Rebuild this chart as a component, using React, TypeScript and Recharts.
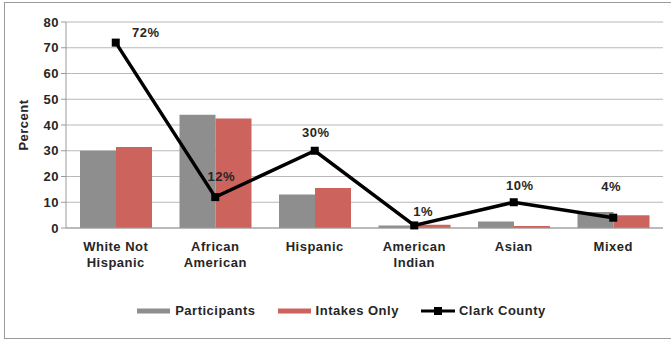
import React from 'react';
import {
  ComposedChart,
  Bar,
  Line,
  XAxis,
  YAxis,
  CartesianGrid,
  Legend,
  LabelList
} from 'recharts';

// groups along the x axis ("\n" splits a label over two lines)
const groups = [
  'White Not\nHispanic',
  'African\nAmerican',
  'Hispanic',
  'American\nIndian',
  'Asian',
  'Mixed'
];

// percent of each group
const participants = [30, 44, 13, 1, 2.5, 6.2];
const intakesOnly = [31.5, 42.5, 15.5, 1.3, 0.8, 5];
const clarkCounty = [72, 12, 30, 1, 10, 4];

const yTicks = [0, 10, 20, 30, 40, 50, 60, 70, 80];

const legendOrder = ['Participants', 'Intakes Only', 'Clark County'];

// nudges for the county percent labels so they don't sit on the line
const labelNudge = [
  { dx: 30, dy: 8 },
  { dx: 6, dy: -2 },
  { dx: 1, dy: 0 },
  { dx: 9, dy: 5 },
  { dx: 6, dy: 2 },
  { dx: -2, dy: -13 }
];

const data = groups.map((g, i) => ({
  group: g,
  participants: participants[i],
  intakes: intakesOnly[i],
  county: clarkCounty[i]
}));

const FONT = '"Liberation Sans", Arial, sans-serif';
const TEXT = '#262626';
const GRAY = '#8e8e8e';
const RED = '#cc635d';
const FS = 13;
const LS = 0.5;

const GroupTick = (props: any) => {
  const { x, y, payload } = props;
  const lines = String(payload.value).split('\n');
  return (
    <g transform={`translate(${x},${y})`}>
      {lines.map((ln, i) => (
        <text
          key={i}
          x={0}
          y={15 + i * 16}
          textAnchor="middle"
          fill={TEXT}
          fontSize={FS}
          letterSpacing={LS}
          fontWeight="bold"
          fontFamily={FONT}
        >
          {ln}
        </text>
      ))}
    </g>
  );
};

const SquareDot = (props: any) => {
  const { cx, cy, index } = props;
  if (cx == null || cy == null) return null;
  return <rect key={`d-${index}`} x={cx - 4} y={cy - 4} width={8} height={8} fill="#000" />;
};

const CountyLabel = (props: any) => {
  const { x, y, value, index } = props;
  const n = labelNudge[index] || { dx: 0, dy: 0 };
  return (
    <text
      x={x + n.dx}
      y={y - 14 + n.dy}
      textAnchor="middle"
      fill={TEXT}
      fontSize={FS}
      letterSpacing={LS}
      fontWeight="bold"
      fontFamily={FONT}
    >
      {`${value}%`}
    </text>
  );
};

const LegendBox = (props: any) => {
  const items = [...(props.payload || [])].sort(
    (a: any, b: any) => legendOrder.indexOf(a.value) - legendOrder.indexOf(b.value)
  );
  return (
    <div style={{ display: 'flex', justifyContent: 'center', paddingLeft: 20 }}>
      {items.map((p: any, i: number) => (
        <div
          key={i}
          style={{ display: 'flex', alignItems: 'center', marginRight: i < 2 ? 22 : 0 }}
        >
          <svg width={34} height={12} style={{ marginRight: 4 }}>
            {p.type === 'line' ? (
              <>
                <line x1={0} y1={6} x2={34} y2={6} stroke="#000" strokeWidth={3} />
                <rect x={13} y={2} width={8} height={8} fill="#000" />
              </>
            ) : (
              <rect x={0} y={3.5} width={33} height={5} fill={p.color} />
            )}
          </svg>
          <span
            style={{
              fontFamily: FONT,
              fontWeight: 'bold',
              fontSize: FS,
              letterSpacing: LS,
              color: TEXT
            }}
          >
            {p.value}
          </span>
        </div>
      ))}
    </div>
  );
};

export default function App() {
  return (
    <div style={{ position: 'absolute', left: 0, top: 0, width: 671, height: 339, background: '#fff', overflow: 'hidden' }}>
      {/* outer frame, open on the right */}
      <div
        style={{
          position: 'absolute',
          left: 4,
          top: 2,
          width: 680,
          height: 335,
          border: '1px solid #9a9a9a'
        }}
      />
      <ComposedChart
        width={671}
        height={339}
        data={data}
        margin={{ top: 22, right: 8, bottom: 56, left: 0 }}
        barGap={0}
        barCategoryGap={13}
        style={{ position: 'absolute', left: 0, top: 0 }}
      >
        <CartesianGrid vertical={false} stroke="#b8b8b8" />
        <XAxis
          dataKey="group"
          interval={0}
          height={40}
          tick={<GroupTick />}
          tickLine={false}
          axisLine={{ stroke: '#9a9a9a' }}
        />
        <YAxis
          width={66}
          domain={[0, 80]}
          ticks={yTicks}
          interval={0}
          tickLine={{ stroke: '#9a9a9a' }}
          tickSize={5}
          axisLine={{ stroke: '#9a9a9a' }}
          tick={{ fill: TEXT, fontSize: FS, fontWeight: 'bold', fontFamily: FONT, letterSpacing: LS }}
          label={{
            value: 'Percent',
            angle: -90,
            position: 'insideLeft',
            dx: 18,
            style: { fill: TEXT, fontSize: FS, fontWeight: 'bold', fontFamily: FONT, letterSpacing: LS, textAnchor: 'middle' }
          }}
        />
        <Legend
          verticalAlign="bottom"
          content={<LegendBox />}
          wrapperStyle={{ bottom: 21 }}
        />
        <Bar dataKey="participants" name="Participants" fill={GRAY} barSize={36} isAnimationActive={false} />
        <Bar dataKey="intakes" name="Intakes Only" fill={RED} barSize={36} isAnimationActive={false} />
        <Line
          dataKey="county"
          name="Clark County"
          type="linear"
          stroke="#000"
          strokeWidth={3.5}
          dot={<SquareDot />}
          activeDot={false}
          legendType="line"
          isAnimationActive={false}
        >
          <LabelList dataKey="county" content={<CountyLabel />} />
        </Line>
      </ComposedChart>
    </div>
  );
}
